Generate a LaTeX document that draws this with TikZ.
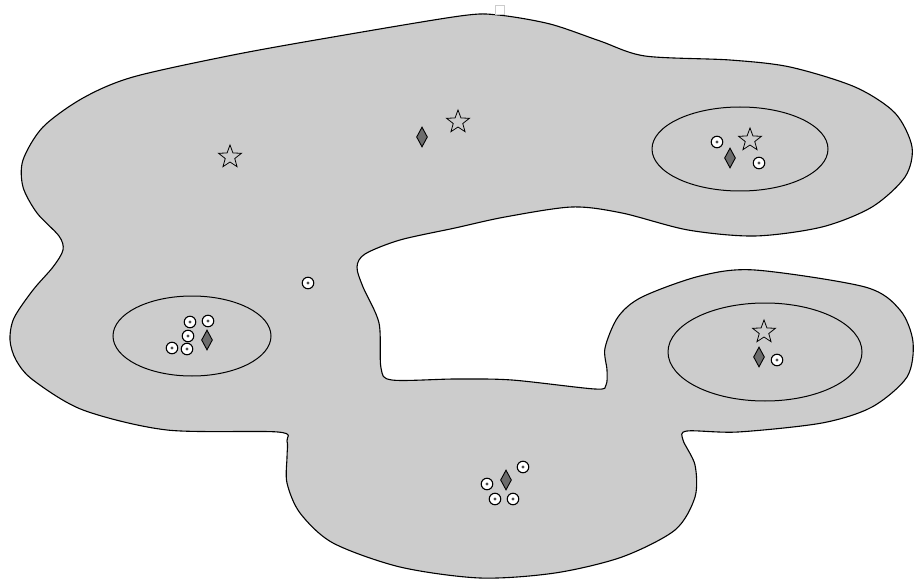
\documentclass[tikz,border=0pt]{standalone}
\usetikzlibrary{shapes.geometric}
\begin{document}
\begin{tikzpicture}[x=1pt,y=-1pt,
    token/.style={circle,draw,fill=white,line width=1.1pt,minimum size=11.5pt,inner sep=0pt,
        path picture={\fill[gray!60!black] (path picture bounding box.center) circle (1.6pt);}},
    gem/.style={diamond,draw,fill=gray!85!black,line width=0.9pt,minimum width=11pt,minimum height=20pt,inner sep=0pt},
    mark star/.style={star,star points=5,star point ratio=2.4,draw,line width=0.8pt,minimum size=24pt,inner sep=0pt}]
    \useasboundingbox (0,0) rectangle (915,580);

    \draw[line width=1.1pt,fill=gray!40] plot[smooth cycle,tension=0.5] coordinates {
        (498,15) (550,24) (600,41) (645,56) (730,60) (790,67) (855,87) (895,113)
        (912,147) (905,177) (872,207) (822,227) (755,236) (688,230) (622,213)
        (572,207) (505,217) (455,228) (400,240) (365,254) (357,267) (363,287)
        (379,323) (381,368) (392,380) (455,379) (512,380) (595,389) (606,385)
        (607,370) (605,348) (618,317) (642,297) (700,276) (755,270) (865,287)
        (900,310) (913,342) (907,377) (872,407) (822,423) (738,432) (687,431)
        (683,440) (695,465) (695,497) (675,530) (622,557) (555,573) (480,578)
        (400,567) (333,543) (300,513) (287,483) (287,457) (287,441) (278,432)
        (167,430) (83,410) (33,380) (16,360) (10,340) (14,318) (33,290)
        (53,267) (63,250) (59,236) (37,213) (23,187) (23,160) (43,127)
        (83,98) (133,77) (233,55) (333,37) (460,16)};
    \draw[gray!40,fill=white,line width=0.6pt] (495,5) rectangle (504,14);

    \draw[line width=1pt] (740,149) ellipse (88 and 42);
    \draw[line width=1pt] (192,336) ellipse (79 and 40);
    \draw[line width=1pt] (765,352) ellipse (97 and 49);

    \foreach \x/\y [count=\i] in {230/157,458/122,750/140,764/332}
        \node[mark star] (s\i) at (\x,\y) {};
    \foreach \x/\y [count=\i] in {422/137,730/158,207/340,759/357,506/480}
        \node[gem] (g\i) at (\x,\y) {};
    \foreach \x/\y [count=\i] in {308/283,717/142,759/163,190/322,208/321,188/336,172/348,187/349,777/360,523/467,487/484,495/499,513/499}
        \node[token] (t\i) at (\x,\y) {};
\end{tikzpicture}
\end{document}
